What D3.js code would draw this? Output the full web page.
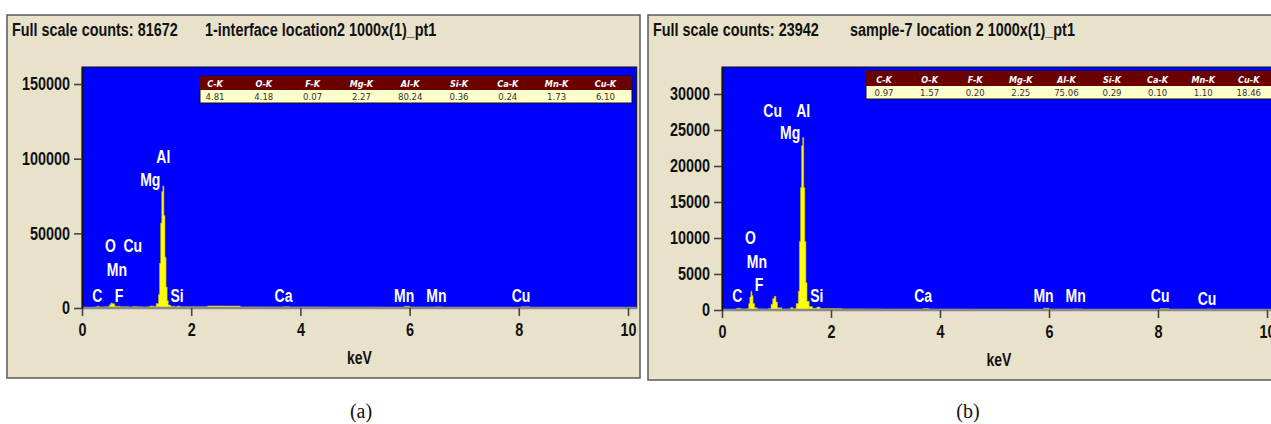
<!DOCTYPE html>
<html>
<head>
<meta charset="utf-8">
<script src="https://cdn.jsdelivr.net/npm/d3@7"></script>
<style>
  body { margin: 0; background: #fff; }
  svg { display: block; }
  .cond { font-family: "Liberation Sans", Arial, sans-serif; font-weight: bold; }
</style>
</head>
<body>
<svg id="chart" width="1271" height="424"></svg>
<script>
// ---- data ----
var xTicks = [0, 2, 4, 6, 8, 10];
var yTicksA = [0, 50000, 100000, 150000];
var yTicksB = [0, 5000, 10000, 15000, 20000, 25000, 30000];

var elements = ['C-K', 'O-K', 'F-K', 'Mg-K', 'Al-K', 'Si-K', 'Ca-K', 'Mn-K', 'Cu-K'];
var wtA = ['4.81', '4.18', '0.07', '2.27', '80.24', '0.36', '0.24', '1.73', '6.10'];
var wtB = ['0.97', '1.57', '0.20', '2.25', '75.06', '0.29', '0.10', '1.10', '18.46'];

// spectrum (a): channel energy (keV) / counts
var energyA = [0.10, 0.20, 0.27, 0.32, 0.40, 0.46, 0.50, 0.53, 0.56, 0.60, 0.70, 0.85, 0.93, 1.00, 1.10,
               1.20, 1.25, 1.30, 1.36, 1.40, 1.42, 1.44, 1.46, 1.48, 1.50, 1.52, 1.54, 1.56, 1.58, 1.62,
               1.70, 1.74, 1.80, 2.00, 2.30, 2.60, 2.90, 3.30, 3.69, 3.80, 4.50, 5.50, 5.90, 6.00, 6.45,
               6.60, 7.50, 8.04, 8.20, 9.00, 10.00];
var countsA = [300, 600, 1100, 700, 800, 900, 2200, 3400, 2800, 1200, 800, 700, 1000, 800, 700,
               900, 1400, 1100, 3000, 9000, 30000, 57000, 78000, 81672, 62000, 34000, 14000, 5000, 2000, 1200,
               900, 1300, 800, 800, 1400, 1300, 700, 600, 900, 600, 500, 400, 1200, 500, 700,
               400, 300, 800, 300, 300, 200];

// spectrum (b)
var energyB = [0.10, 0.20, 0.27, 0.35, 0.45, 0.49, 0.51, 0.53, 0.55, 0.57, 0.60, 0.65, 0.75, 0.85, 0.90,
               0.93, 0.96, 0.99, 1.02, 1.10, 1.20, 1.26, 1.30, 1.36, 1.40, 1.42, 1.44, 1.46, 1.48, 1.50,
               1.52, 1.54, 1.56, 1.60, 1.66, 1.74, 1.80, 2.20, 2.60, 3.00, 3.69, 3.80, 4.50, 5.50, 5.90,
               6.00, 6.45, 6.60, 7.50, 8.04, 8.20, 8.90, 9.00, 10.00];
var countsB = [50, 100, 250, 150, 200, 900, 1800, 2600, 2000, 900, 300, 150, 120, 200, 800,
               1600, 1900, 1100, 300, 120, 150, 350, 200, 900, 2600, 9500, 17000, 22800, 23942, 17000,
               9500, 3800, 1200, 500, 250, 400, 200, 150, 120, 100, 200, 100, 80, 60, 250,
               100, 150, 60, 50, 200, 80, 120, 50, 40];

// peak labels: name, keV, counts (label height)
var labelNameA = ['Al', 'Mg', 'O', 'Cu', 'Mn', 'C', 'F', 'Si', 'Ca', 'Mn', 'Mn', 'Cu'];
var labelKeVA = [1.49, 1.25, 0.52, 0.93, 0.64, 0.28, 0.68, 1.74, 3.69, 5.90, 6.49, 8.04];
var labelCntA = [101000, 85700, 41500, 41500, 25400, 8000, 8000, 8000, 8000, 8000, 8000, 8000];

var labelNameB = ['Cu', 'Al', 'Mg', 'O', 'Mn', 'F', 'C', 'Si', 'Ca', 'Mn', 'Mn', 'Cu', 'Cu'];
var labelKeVB = [0.93, 1.49, 1.25, 0.52, 0.64, 0.68, 0.28, 1.74, 3.69, 5.90, 6.49, 8.04, 8.90];
var labelCntB = [27640, 27640, 24580, 10000, 6670, 3470, 1940, 1940, 1940, 1940, 1940, 1940, 1530];

var titleA = ['Full scale counts: 81672', '1-interface location2 1000x(1)_pt1'];
var titleB = ['Full scale counts: 23942', 'sample-7 location 2 1000x(1)_pt1'];

// ---- drawing ----
var svg = d3.select('#chart');

// squeeze bold sans text to look like a narrow face
function condense(sel, k) {
  sel.each(function() {
    var w = this.getComputedTextLength();
    d3.select(this)
      .attr('textLength', w * k)
      .attr('lengthAdjust', 'spacingAndGlyphs')
    ;
  });
}

function drawPanel(def) {
  var g = svg.append('g');
  var f = def.frame, p = def.plot;

  g.append('rect')
    .attr('x', f.x).attr('y', f.y)
    .attr('width', f.w).attr('height', f.h)
    .style('fill', '#e9e2cb')
    .style('stroke', '#5a5a5a')
    .style('stroke-width', 1.5)
  ;

  g.append('text').attr('class', 'cond')
    .attr('x', f.x + 5).attr('y', f.y + 21)
    .style('font-size', '18px').style('fill', '#111')
    .text(def.title[0])
  ;
  g.append('text').attr('class', 'cond')
    .attr('x', def.title2x).attr('y', f.y + 21)
    .style('font-size', '18px').style('fill', '#111')
    .text(def.title[1])
  ;

  var x = d3.scaleLinear().domain([0, 10]).range([p.x0, p.x10]);
  var y = d3.scaleLinear().domain([0, def.ymax]).range([p.y0, p.top]);
  var xEnd = x(10.16);

  g.append('rect')
    .attr('x', p.x0).attr('y', p.top)
    .attr('width', xEnd - p.x0).attr('height', p.y0 - p.top)
    .style('fill', '#0000ff')
    .style('stroke', '#111')
    .style('stroke-width', 1)
  ;

  // spectrum
  var pts = d3.zip(def.energy, def.counts);
  var area = d3.area()
    .x(function(d) { return x(d[0]); })
    .y0(y(0))
    .y1(function(d) { return y(d[1]); })
    .curve(d3.curveStepAfter)
  ;
  g.append('path')
    .datum(pts)
    .attr('d', area)
    .style('fill', '#ffff00')
    .style('stroke', '#b8b400')
    .style('stroke-width', 0.6)
  ;

  // data table
  var t = def.table;
  g.append('rect')
    .attr('x', t.x).attr('y', t.y)
    .attr('width', t.w).attr('height', t.h1 + t.h2)
    .style('fill', '#ffffcc').style('stroke', '#111').style('stroke-width', 1)
  ;
  g.append('rect')
    .attr('x', t.x).attr('y', t.y)
    .attr('width', t.w).attr('height', t.h1)
    .style('fill', '#6b0000')
  ;
  g.selectAll('text.hd')
    .data(def.names)
    .enter().append('text')
    .attr('x', function(d, i) { return t.x + t.off + i * t.cw; })
    .attr('y', t.y + t.h1 - 3.5)
    .attr('text-anchor', 'middle')
    .style('font-family', '"DejaVu Sans Condensed", sans-serif')
    .style('font-weight', 'bold').style('font-style', 'italic')
    .style('font-size', '9px').style('fill', '#fff')
    .text(function(d) { return d; })
  ;
  g.selectAll('text.val')
    .data(def.values)
    .enter().append('text')
    .attr('x', function(d, i) { return t.x + t.off + i * t.cw; })
    .attr('y', t.y + t.h1 + t.h2 - 3)
    .attr('text-anchor', 'middle')
    .style('font-family', '"DejaVu Sans Condensed", sans-serif')
    .style('font-size', '9.5px').style('fill', '#333')
    .text(function(d) { return d; })
  ;

  // peak labels
  g.selectAll('text.pk')
    .data(def.labNames)
    .enter().append('text').attr('class', 'cond')
    .attr('x', function(d, i) { return x(def.labKeV[i]); })
    .attr('y', function(d, i) { return y(def.labCnt[i]); })
    .attr('dy', '0.35em')
    .attr('text-anchor', 'middle')
    .style('font-size', '17.5px').style('fill', '#fff')
    .text(function(d) { return d; })
  ;

  // axes
  var ax = g.append('g')
    .attr('transform', 'translate(0,' + p.y0 + ')')
    .call(d3.axisBottom(x).tickValues(xTicks).tickSize(8).tickPadding(7).tickSizeOuter(0))
  ;
  var ay = g.append('g')
    .attr('transform', 'translate(' + p.x0 + ',0)')
    .call(d3.axisLeft(y).tickValues(def.yTicks).tickSize(8).tickPadding(4)
      .tickSizeOuter(0).tickFormat(d3.format('d')))
  ;
  ax.select('.domain').attr('d', 'M' + p.x0 + ',0H' + xEnd)
    .style('stroke', '#8a8a8a').style('stroke-width', 2.5);
  ay.select('.domain').style('stroke', '#111').style('stroke-width', 1.5);
  [ax, ay].forEach(function(a) {
    a.selectAll('.tick line').style('stroke', '#444').style('stroke-width', 1.6);
    a.selectAll('.tick text')
      .attr('class', 'cond')
      .attr('font-family', null).attr('font-size', null)
      .style('font-size', '18px').style('fill', '#111')
    ;
  });

  g.append('text').attr('class', 'cond')
    .attr('x', (p.x0 + xEnd) / 2).attr('y', p.y0 + 56)
    .attr('text-anchor', 'middle')
    .style('font-size', '17.5px').style('fill', '#111')
    .text('keV')
  ;

  condense(g.selectAll('text.cond'), 0.8);

  svg.append('text')
    .attr('x', def.capX).attr('y', 418)
    .attr('text-anchor', 'middle')
    .style('font-family', '"Liberation Serif", "Times New Roman", serif')
    .style('font-size', '20px').style('fill', '#111')
    .text(def.caption)
  ;
}

drawPanel({
  frame: {x: 7, y: 15, w: 633, h: 363},
  plot: {x0: 82, x10: 628, y0: 308, top: 67},
  ymax: 161400,
  yTicks: yTicksA,
  title: titleA, title2x: 205,
  energy: energyA, counts: countsA,
  names: elements, values: wtA,
  table: {x: 200, y: 76, w: 432, h1: 14, h2: 13, cw: 48.8, off: 15},
  labNames: labelNameA, labKeV: labelKeVA, labCnt: labelCntA,
  caption: '(a)', capX: 361
});

drawPanel({
  frame: {x: 648, y: 15, w: 640, h: 365},
  plot: {x0: 722, x10: 1267, y0: 310, top: 67},
  ymax: 33750,
  yTicks: yTicksB,
  title: titleB, title2x: 850,
  energy: energyB, counts: countsB,
  names: elements, values: wtB,
  table: {x: 866, y: 71, w: 420, h1: 15, h2: 13, cw: 45.6, off: 18},
  labNames: labelNameB, labKeV: labelKeVB, labCnt: labelCntB,
  caption: '(b)', capX: 968
});
</script>
</body>
</html>
